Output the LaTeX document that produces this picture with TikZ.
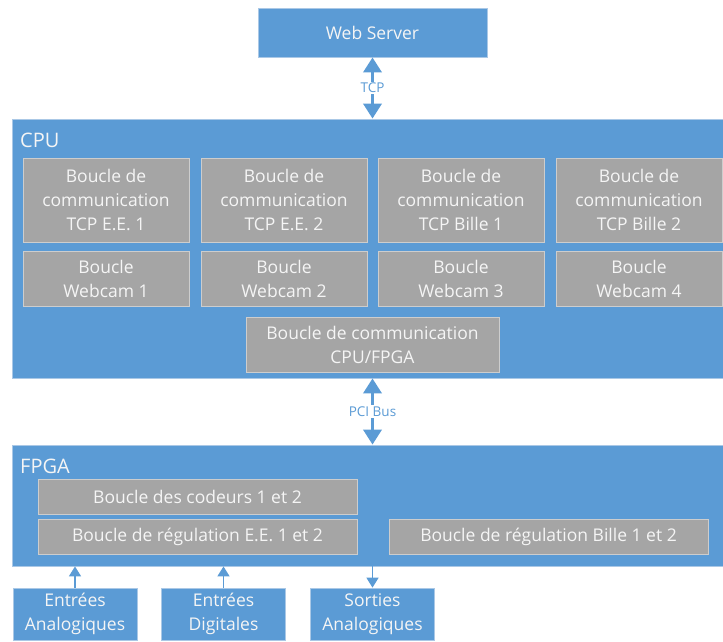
\documentclass[tikz,border=0pt]{standalone}
\usepackage{fontspec}
\setmainfont{Open Sans}
\usepackage{xcolor}
\usepackage{tikz}
\usetikzlibrary{arrows.meta}
\definecolor{boxblue}{RGB}{91, 155, 213}
\definecolor{edgeblue}{RGB}{170, 200, 230}
\definecolor{boxgray}{RGB}{165, 165, 165}
\definecolor{edgegray}{RGB}{205, 205, 205}
\definecolor{textwhite}{RGB}{245, 245, 245}

\begin{document}
\begin{tikzpicture}[x=1pt, y=-1pt,
    font=\fontsize{17.5}{24}\selectfont,
    blk/.style={draw=edgeblue, line width=0.8pt, fill=boxblue, text=textwhite,
      align=center, inner sep=0pt},
    loopbox/.style={draw=edgegray, line width=0.8pt, fill=boxgray, text=textwhite,
      align=center, inner sep=0pt},
    title/.style={text=textwhite, anchor=west, inner sep=0pt,
      font=\fontsize{20}{22}\selectfont},
    lbl/.style={fill=white, text=boxblue, inner sep=1.5pt,
      font=\fontsize{13.5}{15}\selectfont},
    bigarrow/.style={draw=boxblue, line width=3.5pt,
      {Triangle[width=18pt,length=15pt]}-{Triangle[width=18pt,length=15pt]}},
    smallarrow/.style={draw=boxblue, line width=1.6pt,
      -{Triangle[width=12pt,length=10pt]}}]
        \useasboundingbox (0,0) rectangle (723,641);
        % server
        \node[blk, minimum width=229pt, minimum height=49pt] (ws) at (372.5,32.5) {Web Server};
        % CPU
        \node[blk, minimum width=712pt, minimum height=259pt] (cpu) at (368,248.5) {};
        \node[title] (cputitle) at (20,140) {CPU};
        \node[loopbox, minimum width=166pt, minimum height=84pt] (tcp1) at (106,200) {Boucle de\\communication\\TCP E.E. 1};
        \node[loopbox, minimum width=166pt, minimum height=84pt] (tcp2) at (284,200) {Boucle de\\communication\\TCP E.E. 2};
        \node[loopbox, minimum width=166pt, minimum height=84pt] (tcp3) at (461,200) {Boucle de\\communication\\TCP Bille 1};
        \node[loopbox, minimum width=166pt, minimum height=84pt] (tcp4) at (639,200) {Boucle de\\communication\\TCP Bille 2};
        \node[loopbox, minimum width=166pt, minimum height=55pt] (cam1) at (106,279) {Boucle\\Webcam 1};
        \node[loopbox, minimum width=166pt, minimum height=55pt] (cam2) at (284,279) {Boucle\\Webcam 2};
        \node[loopbox, minimum width=166pt, minimum height=55pt] (cam3) at (461,279) {Boucle\\Webcam 3};
        \node[loopbox, minimum width=166pt, minimum height=55pt] (cam4) at (639,279) {Boucle\\Webcam 4};
        \node[loopbox, minimum width=253pt, minimum height=55pt] (com) at (372.5,344.5) {Boucle de communication\\CPU/FPGA};
        % FPGA
        \node[blk, minimum width=712pt, minimum height=121pt] (fpga) at (368,505.5) {};
        \node[title] (fpgatitle) at (20,466) {FPGA};
        \node[loopbox, minimum width=319pt, minimum height=35pt] (cod) at (197.5,496.5) {Boucle des codeurs 1 et 2};
        \node[loopbox, minimum width=319pt, minimum height=35pt] (regee) at (197.5,536.5) {Boucle de régulation E.E. 1 et 2};
        \node[loopbox, minimum width=319pt, minimum height=35pt] (regb) at (548.5,536.5) {Boucle de régulation Bille 1 et 2};
        % entrees / sorties
        \node[blk, minimum width=124pt, minimum height=52pt] (ea) at (75,614) {Entrées\\Analogiques};
        \node[blk, minimum width=124pt, minimum height=52pt] (ed) at (223.5,614) {Entrées\\Digitales};
        \node[blk, minimum width=124pt, minimum height=52pt] (sa) at (372.5,614) {Sorties\\Analogiques};
        % links
        \draw[bigarrow] (ws.south) -- (ws |- cpu.north) node[midway, lbl] {TCP};
        \draw[bigarrow] (com |- cpu.south) -- (com |- fpga.north) node[midway, lbl] {PCI Bus};
        \draw[smallarrow] (ea.north) -- (ea |- fpga.south);
        \draw[smallarrow] (ed.north) -- (ed |- fpga.south);
        \draw[smallarrow] (sa |- fpga.south) -- (sa.north);
      \end{tikzpicture}
\end{document}
